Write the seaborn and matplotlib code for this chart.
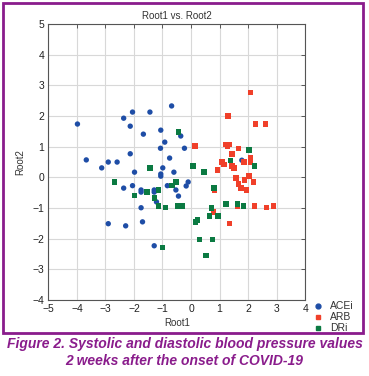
import pandas as pd
import seaborn as sns
import matplotlib.pyplot as plt
from matplotlib.patches import Rectangle

# points (Root1, Root2) per group
acei_x = [-3.98, -3.67, -3.13, -2.90, -2.59, -2.36, -2.05, -2.13, -2.13, -1.67, -1.44, -0.68,
          -1.06, -0.92, -1.07, -0.75, -0.99, -0.36, -0.23, -1.98, -1.06, -1.06, -0.60, -2.36,
          -2.05, -1.75, -1.75, -1.29, -1.29, -1.21, -0.83, -0.53, -0.44, -0.17, -0.10, -1.75,
          -2.90, -2.29, -1.70, -1.29, 1.78]
acei_y = [1.74, 0.57, 0.31, 0.50, 0.50, 1.93, 2.13, 1.67, 0.77, 1.41, 2.13, 2.33,
          1.54, 1.15, 0.95, 0.63, 0.31, 1.35, 0.95, 0.17, 0.11, 0.04, 0.17, -0.35,
          -0.27, -0.41, -0.48, -0.41, -0.48, -0.80, -0.27, -0.41, -0.61, -0.28, -0.15, -0.99,
          -1.51, -1.58, -1.45, -2.23, 0.56]

arb_x = [2.09, 1.30, 2.25, 2.62, 0.14, 1.20, 1.35, 1.27, 1.66, 1.44, 1.86, 2.09, 2.09,
         1.08, 1.15, 1.44, 1.51, 0.93, 1.58, 1.88, 2.03, 1.66, 1.75, 2.19, 1.95, 0.82,
         0.78, 1.62, 2.22, 2.65, 2.89, 1.34]
arb_y = [2.77, 2.00, 1.74, 1.74, 1.02, 1.08, 1.08, 1.00, 0.95, 0.76, 0.50, 0.63, 0.50,
         0.50, 0.43, 0.37, 0.30, 0.24, -0.02, -0.09, 0.04, -0.22, -0.35, -0.15, -0.41, -0.41,
         -1.13, -0.93, -0.93, -0.99, -0.93, -1.50]

dri_x = [-0.44, -1.44, -2.68, -1.98, -1.54, -1.14, -1.29, -1.14, -0.90, -0.67, -0.52,
         -0.45, -0.31, -0.99, 0.07, 0.45, 1.39, 2.03, 2.23, 0.81, 0.71, 0.64, 0.95, 0.22,
         0.15, 1.23, 1.62, 1.83, 0.29, 0.75, 0.52]
dri_y = [1.48, 0.31, -0.15, -0.60, -0.48, -0.41, -0.67, -0.93, -0.99, -0.27, -0.15,
         -0.93, -0.93, -2.29, 0.37, 0.17, 0.56, 0.89, 0.37, -0.35, -1.00, -1.26, -1.26, -1.39,
         -1.46, -0.87, -0.87, -0.93, -2.03, -2.03, -2.55]

groups = ['ACEi', 'ARB', 'DRi']
colors = {'ACEi': '#1e4da6', 'ARB': '#f0402a', 'DRi': '#0b7a42'}
markers = {'ACEi': 'o', 'ARB': 's', 'DRi': 's'}

df = pd.concat([
    pd.DataFrame({'Root1': acei_x, 'Root2': acei_y, 'group': 'ACEi'}),
    pd.DataFrame({'Root1': arb_x, 'Root2': arb_y, 'group': 'ARB'}),
    pd.DataFrame({'Root1': dri_x, 'Root2': dri_y, 'group': 'DRi'}),
])

sns.set_style('whitegrid')
plt.rcParams['font.family'] = ['Liberation Sans', 'DejaVu Sans']

fig = plt.figure(figsize=(3.69, 3.76), dpi=100)
ax = fig.add_axes([0.131, 0.202, 0.696, 0.734])

sns.scatterplot(data=df, x='Root1', y='Root2', hue='group', style='group',
                hue_order=groups, style_order=groups, palette=colors, markers=markers,
                s=15, linewidth=0, ax=ax, legend=False)

ax.set_xlim(-5, 4)
ax.set_ylim(-4, 5)
ax.set_xticks(range(-5, 5))
ax.set_yticks(range(-4, 6))
ax.grid(True, color='#d8d8d8', linewidth=0.8)
for sp in ax.spines.values():
    sp.set_color('#555555')
    sp.set_linewidth(0.8)
ax.tick_params(direction='in', length=3, width=0.7, colors='#555555', labelcolor='#222222',
               labelsize=7.5, top=True, right=True, pad=3)
ax.set_xlabel('Root1', fontsize=7, color='#333333', labelpad=3)
ax.set_ylabel('Root2', fontsize=7, color='#333333', labelpad=5)
ax.set_title('Root1 vs. Root2', fontsize=7, color='#333333', pad=4)

# legend to the right of the lower corner
handles = [plt.Line2D([], [], linestyle='', marker=markers[g], color=colors[g],
                      markersize=3.5 if g == 'ACEi' else 3.2) for g in groups]
fig.legend(handles, groups, loc='upper left', bbox_to_anchor=(0.84, 0.212),
           frameon=False, fontsize=7.5, handlelength=0.6, handletextpad=0.8,
           labelspacing=0.08, borderpad=0, labelcolor='#333333')

# purple frame and caption
fig.patches.append(Rectangle((0.009, 0.115), 0.975, 0.876, transform=fig.transFigure,
                             fill=False, edgecolor='#8a1c8c', linewidth=2))
fig.text(0.5, 0.085, 'Figure 2. Systolic and diastolic blood pressure values',
         ha='center', va='center', fontsize=10, color='#8a1c8c',
         fontweight='bold', fontstyle='italic')
fig.text(0.5, 0.041, '2 weeks after the onset of COVID-19',
         ha='center', va='center', fontsize=10, color='#8a1c8c',
         fontweight='bold', fontstyle='italic')

plt.savefig('out.png', dpi=100)
